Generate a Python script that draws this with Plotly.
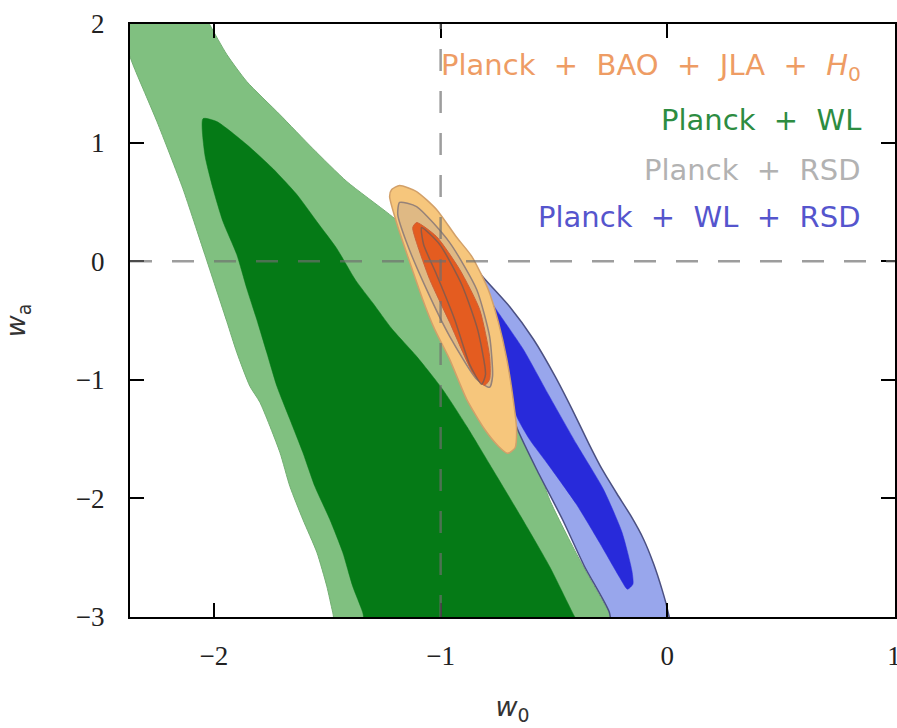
import plotly.graph_objects as go

# ---------------- data (w0, wa) ----------------
# Planck + WL, 95% region (light green)
wl95_w0 = [-2.45, -2.414, -2.357, -2.251, -2.137, -2.040, -1.943, -1.899, -1.841, -1.797,
           -1.709, -1.665, -1.608, -1.546, -1.502, -1.476, -1.445,
           -0.189, -0.247, -0.388, -0.520, -0.608, -0.696, -0.828, -0.960, -1.093,
           -1.225, -1.414, -1.564, -1.709, -1.855, -1.943, -2.018, -2.062]
wl95_wa = [2.12, 1.96, 1.657, 1.177, 0.613, 0.056, -0.508, -0.769, -1.055, -1.190,
           -1.611, -1.898, -2.176, -2.454, -2.740, -2.959, -3.186,
           -3.188, -2.994, -2.513, -2.007, -1.502, -0.996, -0.449, -0.087, 0.183,
           0.394, 0.672, 0.950, 1.236, 1.515, 1.743, 1.994, 2.16]

# Planck + WL, 68% region (dark green)
wl68_w0 = [-2.048, -2.040, -2.004, -1.960, -1.899, -1.855, -1.811, -1.767, -1.722, -1.665,
           -1.608, -1.555, -1.489, -1.432, -1.388, -1.344, -1.313,
           -0.352, -0.410, -0.520, -0.639, -0.784, -0.885, -0.991, -1.106, -1.215,
           -1.300, -1.375, -1.458, -1.546, -1.634, -1.740, -1.855, -1.987]
wl68_wa = [1.202, 0.899, 0.613, 0.334, 0.056, -0.230, -0.491, -0.769, -1.055, -1.333,
           -1.611, -1.898, -2.176, -2.454, -2.740, -2.959, -3.187,
           -3.187, -2.993, -2.572, -2.176, -1.712, -1.392, -1.081, -0.802, -0.570,
           -0.350, -0.160, 0.107, 0.334, 0.562, 0.781, 0.983, 1.177]

# Planck + WL + RSD, 95% region (light blue)
all95_w0 = [-1.070, -1.004, -0.916, -0.815, -0.696, -0.590, -0.495, -0.420, -0.345, -0.288,
            -0.221, -0.160, -0.105, -0.060, -0.024, 0.000, 0.018,
            -0.233, -0.256, -0.366, -0.463, -0.577, -0.661, -0.740, -0.837, -0.938,
            -1.026, -1.084]
all95_wa = [0.478, 0.377, 0.124, -0.129, -0.382, -0.660, -0.971, -1.249, -1.544, -1.754,
            -1.965, -2.150, -2.344, -2.555, -2.765, -2.933, -3.186,
            -3.186, -2.959, -2.572, -2.176, -1.754, -1.417, -0.996, -0.575, -0.154,
            0.183, 0.394]

# Planck + WL + RSD, 68% region (dark blue)
all68_w0 = [-0.907, -0.828, -0.740, -0.635, -0.525, -0.400, -0.282, -0.200, -0.156, -0.152,
            -0.176, -0.211, -0.300, -0.401, -0.520, -0.608, -0.665, -0.705, -0.740,
            -0.784, -0.850]
all68_wa = [-0.003, -0.196, -0.449, -0.744, -1.123, -1.544, -1.923, -2.286, -2.614, -2.724,
            -2.766, -2.665, -2.370, -2.050, -1.730, -1.502, -1.308, -1.039, -0.744,
            -0.491, -0.238]

# Planck + BAO + JLA + H0, 95% region (light orange)
ext95_w0 = [-1.181, -1.216, -1.225, -1.189, -1.137, -1.079, -1.026, -0.960, -0.885, -0.806,
            -0.745, -0.705, -0.672, -0.665, -0.680, -0.708, -0.745, -0.790, -0.862,
            -0.932, -1.018, -1.106]
ext95_wa = [0.638, 0.604, 0.545, 0.292, -0.003, -0.322, -0.575, -0.828, -1.165, -1.417,
            -1.560, -1.620, -1.575, -1.417, -1.165, -0.828, -0.516, -0.238, 0.039,
            0.208, 0.436, 0.587]

# Planck + BAO + JLA + H0, 68% region (dark orange)
ext68_w0 = [-1.106, -1.018, -0.916, -0.828, -0.784, -0.784, -0.806, -0.859, -0.960, -1.048,
            -1.106, -1.123]
ext68_wa = [0.326, 0.208, -0.070, -0.407, -0.803, -0.996, -1.047, -0.938, -0.516, -0.154,
            0.157, 0.284]

# Planck + RSD, 95% and 68% contours (grey)
rsd95_w0 = [-1.181, -1.106, -0.960, -0.841, -0.784, -0.771, -0.784, -0.841, -0.960, -1.062,
            -1.150, -1.189]
rsd95_wa = [0.495, 0.461, 0.157, -0.238, -0.634, -0.971, -1.063, -0.996, -0.634, -0.238,
            0.157, 0.393]
rsd68_w0 = [-1.084, -1.004, -0.907, -0.837, -0.802, -0.819, -0.872, -0.938, -1.018, -1.075]
rsd68_wa = [0.284, 0.141, -0.196, -0.575, -0.954, -1.038, -0.870, -0.491, -0.112, 0.141]

# reference lines (LCDM)
w0_ref = -1
wa_ref = 0

x_ticks = [-2, -1, 0, 1]
y_ticks = [-3, -2, -1, 0, 1, 2]

SP = "\u00a0 "
legend_labels = ["Planck" + SP + "+" + SP + "BAO" + SP + "+" + SP + "JLA" + SP + "+" + SP + "<i>H</i><sub>0</sub>",
                 "Planck" + SP + "+" + SP + "WL",
                 "Planck" + SP + "+" + SP + "RSD",
                 "Planck" + SP + "+" + SP + "WL" + SP + "+" + SP + "RSD"]
legend_colors = ["rgb(238,156,100)", "rgb(45,140,65)", "rgb(178,178,178)", "rgb(85,85,205)"]

# ---------------- figure ----------------
fig = go.Figure()


def closed(a):
    return list(a) + [a[0]]


def region(xs, ys, fill, line_color, line_width=1.0):
    fig.add_trace(go.Scatter(
        x=closed(xs), y=closed(ys), mode="lines", fill="toself",
        fillcolor=fill, line=dict(color=line_color, width=line_width, shape="spline", smoothing=0.6),
        hoverinfo="skip", showlegend=False))


region(wl95_w0, wl95_wa, "rgb(128,192,128)", "rgb(115,175,115)", 1.0)
region(wl68_w0, wl68_wa, "rgb(5,122,22)", "rgb(5,122,22)", 0.5)
region(all95_w0, all95_wa, "rgb(152,166,236)", "rgb(75,80,130)", 1.5)
region(all68_w0, all68_wa, "rgb(40,42,218)", "rgb(40,42,218)", 0.5)
region(ext95_w0, ext95_wa, "rgb(246,198,124)", "rgb(210,160,105)", 1.5)
region(rsd95_w0, rsd95_wa, "rgba(180,160,150,0.35)", "rgb(150,130,120)", 1.5)
region(ext68_w0, ext68_wa, "rgb(228,92,32)", "rgb(205,95,55)", 1.0)
fig.add_trace(go.Scatter(x=closed(rsd68_w0), y=closed(rsd68_wa), mode="lines",
                         line=dict(color="rgba(120,90,80,0.8)", width=1.5, shape="spline", smoothing=0.6),
                         hoverinfo="skip", showlegend=False))

# dashed reference lines
fig.add_shape(type="line", xref="x", yref="paper", x0=w0_ref, x1=w0_ref, y0=0, y1=1,
              line=dict(color="rgba(110,110,110,0.68)", width=2.5, dash="22px,20px"), layer="above")
fig.add_shape(type="line", xref="paper", yref="y", x0=0, x1=1, y0=wa_ref, y1=wa_ref,
              line=dict(color="rgba(110,110,110,0.68)", width=2.5, dash="22px,20px"), layer="above")

# legend texts
legend_y = [0.9275, 0.838, 0.754, 0.675]
for lab, col, yy in zip(legend_labels, legend_colors, legend_y):
    fig.add_annotation(text=lab, xref="paper", yref="paper", x=0.958, y=yy,
                       xanchor="right", yanchor="middle", showarrow=False,
                       font=dict(family="DejaVu Sans", size=29, color=col))

axis_common = dict(
    showgrid=False, zeroline=False, showline=True, mirror="ticks", automargin=False,
    linecolor="black", linewidth=2, ticks="inside", ticklen=14, tickwidth=2,
    tickcolor="black", tickfont=dict(family="Liberation Serif", size=27, color="#222"),
    ticklabeloverflow="allow",
)

fig.update_layout(
    width=897, height=728,
    margin=dict(l=130, r=2, t=24, b=111),
    paper_bgcolor="white", plot_bgcolor="white",
    xaxis=dict(range=[-2.37, 1.004], tickvals=x_ticks, ticklabelstandoff=14,
               title=dict(text="<i>w</i><sub>0</sub>", font=dict(family="DejaVu Sans", size=27, color="#333"),
                          standoff=27),
               **axis_common),
    yaxis=dict(range=[-3, 2], tickvals=y_ticks, ticklabelstandoff=18,
               title=dict(text="<i>w</i><sub>a</sub>", font=dict(family="DejaVu Sans", size=27, color="#333"),
                          standoff=48),
               **axis_common),
)

# remove the default page margin so the 897x728 figure fills the window exactly
fig.write_html("out.html",
               config={"displayModeBar": False},
               post_script="document.body.style.margin='0px';"
                           "document.body.style.overflow='hidden';"
                           "document.documentElement.style.overflow='hidden';")
